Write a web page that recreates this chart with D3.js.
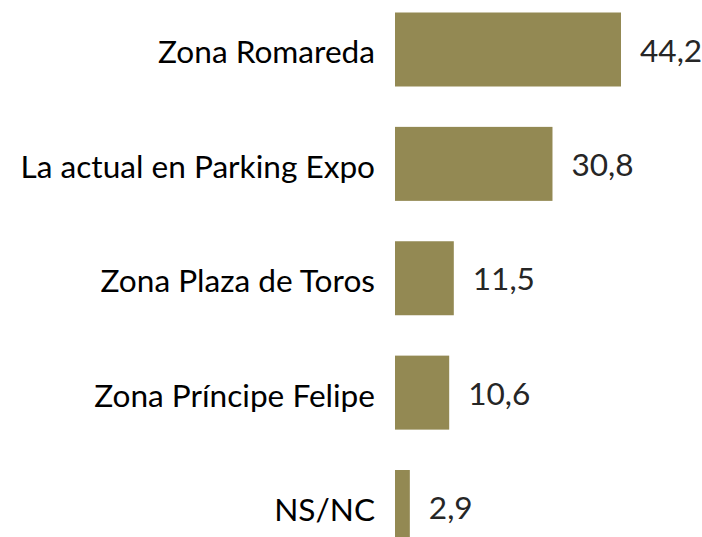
<!DOCTYPE html>
<html>
<head>
<meta charset="utf-8">
<script src="https://cdn.jsdelivr.net/npm/d3@7"></script>
<style>
  body { margin: 0; background: #fff; }
  svg { display: block; }
</style>
</head>
<body>
<div id="chart"></div>
<script>
// categories and values
var categories = ["Zona Romareda", "La actual en Parking Expo", "Zona Plaza de Toros", "Zona Príncipe Felipe", "NS/NC"];
var values = [44.2, 30.8, 11.5, 10.6, 2.9];
var valueLabels = ["44,2", "30,8", "11,5", "10,6", "2,9"];

var width = 702,
	height = 537;

var data = categories.map(function(c, i) {
	return {name: c, value: values[i], label: valueLabels[i]};
});

var svg = d3.select("#chart").append("svg")
	.attr("width", width)
	.attr("height", height);

var x0 = 395;
var xScale = d3.scaleLinear()
	.domain([0, 44.2])
	.range([x0, 621]);

var yScale = d3.scaleBand()
	.domain(categories)
	.range([12.5, 544])
	.paddingInner(0.353)
	.paddingOuter(0);

svg.selectAll(".bar")
	.data(data)
	.enter()
		.append("rect")
		.attr("class", "bar")
		.attr("x", xScale(0))
		.attr("y", function(d) { return yScale(d.name); })
		.attr("width", function(d) { return xScale(d.value) - xScale(0); })
		.attr("height", yScale.bandwidth())
		.attr("fill", "#938953");

// category labels on the left
svg.selectAll(".cat")
	.data(data)
	.enter()
		.append("text")
		.attr("class", "cat")
		.attr("x", x0 - 20)
		.attr("y", function(d) { return yScale(d.name) + yScale.bandwidth() / 2; })
		.attr("dy", "0.44em")
		.attr("text-anchor", "end")
		.style("font-family", "Lato, 'Open Sans', sans-serif")
		.style("font-size", "31.6px")
		.attr("fill", "#000")
		.text(function(d) { return d.name; });

// values after the bars
svg.selectAll(".val")
	.data(data)
	.enter()
		.append("text")
		.attr("class", "val")
		.attr("x", function(d) { return xScale(d.value) + 19; })
		.attr("y", function(d) { return yScale(d.name) + yScale.bandwidth() / 2; })
		.attr("dy", "0.38em")
		.style("font-family", "Lato, 'Open Sans', sans-serif")
		.style("font-size", "31.6px")
		.attr("fill", "#262626")
		.text(function(d) { return d.label; });
</script>
</body>
</html>
